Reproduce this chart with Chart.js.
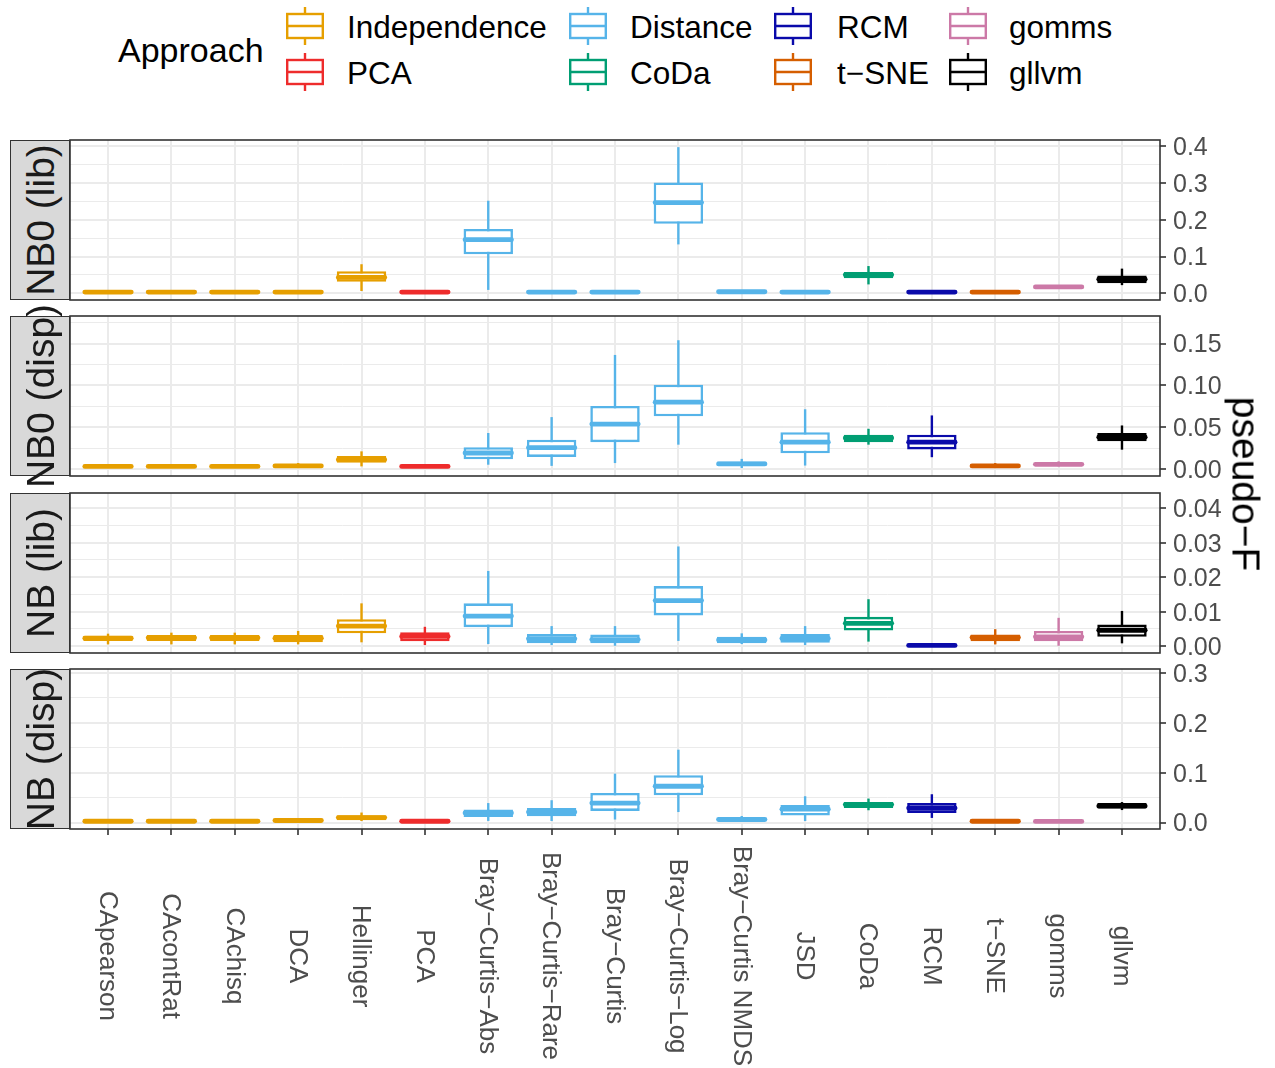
<!DOCTYPE html>
<html>
<head>
<meta charset="utf-8">
<script src="https://cdn.jsdelivr.net/npm/chart.js@4.4.1/dist/chart.umd.min.js"></script>
<style>
  html, body { margin:0; padding:0; background:#fff; }
  body { width:1275px; height:1068px; position:relative; overflow:hidden; font-family:"Liberation Sans", Arial, sans-serif; }
  canvas.cv { position:absolute; left:0; }
  .strip { position:absolute; left:10px; width:60px; background:#D9D9D9; border:1.6px solid #333333; box-sizing:border-box; }
  .striptext { position:absolute; font-size:39px; line-height:1; white-space:nowrap; color:#1A1A1A; transform:translate(-50%,-50%) rotate(-90deg); }
  .ytitle { position:absolute; font-size:39px; line-height:1; white-space:nowrap; color:#000; transform:translate(-50%,-50%) rotate(90deg); }
  .ltitle { position:absolute; font-size:34px; line-height:40px; color:#000; white-space:nowrap; }
  .ltext { position:absolute; font-size:31.5px; line-height:40px; color:#000; white-space:nowrap; }
  .lkey { position:absolute; }
</style>
</head>
<body>
<canvas id="c0" class="cv" width="1275" height="208" style="top:116px"></canvas>
<canvas id="c1" class="cv" width="1275" height="208" style="top:292px"></canvas>
<canvas id="c2" class="cv" width="1275" height="208" style="top:469px"></canvas>
<canvas id="c3" class="cv" width="1275" height="423" style="top:645px"></canvas>
<div id="overlay"></div>
<script>
// ---------------- DATA ----------------
const categories = ["CApearson","CAcontRat","CAchisq","DCA","Hellinger","PCA",
  "Bray\u2212Curtis\u2212Abs","Bray\u2212Curtis\u2212Rare","Bray\u2212Curtis","Bray\u2212Curtis\u2212Log",
  "Bray\u2212Curtis NMDS","JSD","CoDa","RCM","t\u2212SNE","gomms","gllvm"];
const categoryApproach = ["Independence","Independence","Independence","Independence","Independence","PCA",
  "Distance","Distance","Distance","Distance","Distance","Distance","CoDa","RCM","t\u2212SNE","gomms","gllvm"];
const approaches = ["Independence","PCA","Distance","CoDa","RCM","t\u2212SNE","gomms","gllvm"];
const approachColors = ["#E69F00","#EE2C2C","#56B4E9","#009E73","#0A0AAA","#D55E00","#CC79A7","#000000"];
const panelNames = ["NB0 (lib)","NB0 (disp)","NB (lib)","NB (disp)"];

// NB0 (lib)
const nb0LibLow  = [0.001,0.001,0.001,0.001,0.006,0.001,0.009,0.001,0.001,0.133,0.001,0.001,0.024,0.001,0.001,0.013,0.022];
const nb0LibQ1   = [0.002,0.002,0.002,0.002,0.031,0.002,0.106,0.002,0.002,0.189,0.002,0.002,0.041,0.002,0.002,0.015,0.027];
const nb0LibMed  = [0.003,0.003,0.003,0.003,0.043,0.003,0.146,0.003,0.003,0.247,0.004,0.003,0.050,0.003,0.003,0.017,0.038];
const nb0LibQ3   = [0.004,0.004,0.004,0.004,0.060,0.004,0.175,0.004,0.004,0.302,0.005,0.005,0.058,0.004,0.004,0.019,0.048];
const nb0LibHigh = [0.005,0.005,0.005,0.005,0.079,0.006,0.252,0.006,0.006,0.398,0.007,0.007,0.074,0.006,0.005,0.021,0.067];
// NB0 (disp)
const nb0DispLow  = [0.001,0.001,0.001,0.001,0.003,0.001,0.005,0.0036,0.007,0.029,0.001,0.004,0.029,0.014,0.001,0.003,0.023];
const nb0DispQ1   = [0.002,0.002,0.002,0.002,0.0075,0.002,0.0114,0.0143,0.032,0.063,0.004,0.0186,0.032,0.0233,0.002,0.004,0.033];
const nb0DispMed  = [0.003,0.003,0.003,0.0035,0.011,0.003,0.019,0.0254,0.0536,0.0798,0.006,0.032,0.037,0.032,0.0035,0.0055,0.038];
const nb0DispQ3   = [0.004,0.004,0.004,0.005,0.0155,0.004,0.026,0.035,0.0754,0.1007,0.009,0.044,0.041,0.041,0.005,0.007,0.043];
const nb0DispHigh = [0.005,0.005,0.005,0.007,0.021,0.005,0.043,0.062,0.1364,0.154,0.012,0.0714,0.048,0.064,0.007,0.009,0.052];
// NB (lib)
const nbLibLow  = [0.0005,0.0005,0.0005,0.0005,0.0011,0.0003,0.0006,0.0003,0.0001,0.0015,0.0006,0.0003,0.0013,0.0000,0.0005,0.0001,0.0008];
const nbLibQ1   = [0.00145,0.0015,0.0015,0.0011,0.0037,0.0014,0.0055,0.0008,0.0008,0.0089,0.0008,0.0010,0.0045,0.0001,0.0014,0.0014,0.0027];
const nbLibMed  = [0.0023,0.0024,0.0024,0.0023,0.0058,0.0028,0.0087,0.0021,0.0019,0.0132,0.0018,0.0022,0.0066,0.0002,0.0025,0.0027,0.0046];
const nbLibQ3   = [0.0030,0.0032,0.0032,0.0032,0.0078,0.0040,0.0124,0.0035,0.0034,0.0174,0.0027,0.0035,0.0085,0.0003,0.0034,0.0044,0.0063];
const nbLibHigh = [0.0036,0.0039,0.0039,0.0044,0.0124,0.0056,0.0218,0.0058,0.0058,0.0289,0.0037,0.0058,0.0136,0.0005,0.0049,0.0082,0.0102];
// NB (disp)
const nbDispLow  = [0.001,0.001,0.001,0.002,0.003,0.001,0.0032,0.003,0.006,0.021,0.002,0.003,0.0246,0.0092,0.001,0.001,0.025];
const nbDispQ1   = [0.0015,0.0015,0.0015,0.003,0.0046,0.0015,0.0112,0.0126,0.0232,0.0547,0.004,0.014,0.0293,0.0192,0.0015,0.0012,0.028];
const nbDispMed  = [0.0025,0.0025,0.0025,0.004,0.010,0.0025,0.0192,0.021,0.039,0.0727,0.006,0.0267,0.036,0.029,0.0025,0.0022,0.033];
const nbDispQ3   = [0.0035,0.0035,0.0035,0.005,0.0146,0.0035,0.026,0.029,0.0593,0.0948,0.009,0.035,0.0413,0.039,0.0035,0.003,0.039];
const nbDispHigh = [0.004,0.004,0.004,0.006,0.020,0.004,0.039,0.0447,0.098,0.146,0.013,0.0527,0.048,0.0567,0.005,0.004,0.041];

// Axis ticks per panel
const nb0LibTicks  = [0, 0.1, 0.2, 0.3, 0.4];
const nb0DispTicks = [0, 0.05, 0.10, 0.15];
const nbLibTicks   = [0, 0.01, 0.02, 0.03, 0.04];
const nbDispTicks  = [0, 0.1, 0.2, 0.3];
const tickDecimals = [1, 2, 2, 1];
const yLimits = [[-0.0185, 0.4175], [-0.0085, 0.183], [-0.0020, 0.0444], [-0.013, 0.3078]];

// ---------------- BUILD ----------------
const FONT = '"Liberation Sans", Arial, sans-serif';
Chart.defaults.font.family = FONT;

const panels = [
  {low:nb0LibLow, q1:nb0LibQ1, med:nb0LibMed, q3:nb0LibQ3, high:nb0LibHigh, ticks:nb0LibTicks},
  {low:nb0DispLow, q1:nb0DispQ1, med:nb0DispMed, q3:nb0DispQ3, high:nb0DispHigh, ticks:nb0DispTicks},
  {low:nbLibLow, q1:nbLibQ1, med:nbLibMed, q3:nbLibQ3, high:nbLibHigh, ticks:nbLibTicks},
  {low:nbDispLow, q1:nbDispQ1, med:nbDispMed, q3:nbDispQ3, high:nbDispHigh, ticks:nbDispTicks}
];

const catColors = categoryApproach.map(a => approachColors[approaches.indexOf(a)]);

function makeBoxPlugin(P) {
  return {
    id: 'boxparts',
    beforeDatasetsDraw(chart) {
      const ctx = chart.ctx, ys = chart.scales.y, meta = chart.getDatasetMeta(0);
      const a = chart.chartArea;
      ctx.save();
      ctx.beginPath(); ctx.rect(a.left, a.top, a.right - a.left, a.bottom - a.top); ctx.clip();
      ctx.lineWidth = 2.4; ctx.lineCap = 'butt';
      meta.data.forEach((el, i) => {
        ctx.strokeStyle = catColors[i];
        ctx.beginPath();
        ctx.moveTo(el.x, ys.getPixelForValue(P.high[i]));
        ctx.lineTo(el.x, ys.getPixelForValue(P.low[i]));
        ctx.stroke();
      });
      ctx.restore();
    },
    afterDatasetsDraw(chart) {
      const ctx = chart.ctx, ys = chart.scales.y, meta = chart.getDatasetMeta(0);
      ctx.save();
      ctx.lineWidth = 4.8; ctx.lineCap = 'round';
      meta.data.forEach((el, i) => {
        const hw = el.width / 2 - 1.5;
        const y = ys.getPixelForValue(P.med[i]);
        ctx.strokeStyle = catColors[i];
        ctx.beginPath();
        ctx.moveTo(el.x - hw, y);
        ctx.lineTo(el.x + hw, y);
        ctx.stroke();
      });
      ctx.restore();
    }
  };
}

const borderPlugin = {
  id: 'panelBorder',
  afterDraw(chart) {
    const a = chart.chartArea, ctx = chart.ctx;
    ctx.save();
    ctx.strokeStyle = '#333333'; ctx.lineWidth = 1.6;
    ctx.strokeRect(a.left, a.top, a.right - a.left, a.bottom - a.top);
    ctx.restore();
  }
};

const xLabelPlugin = {
  id: 'xLabels',
  afterDraw(chart) {
    const ctx = chart.ctx, xs = chart.scales.x, a = chart.chartArea;
    ctx.save();
    ctx.fillStyle = '#4D4D4D';
    ctx.font = '26px ' + FONT;
    ctx.textAlign = 'center'; ctx.textBaseline = 'middle';
    categories.forEach((c, i) => {
      const x = xs.getPixelForValue(i + 1);
      ctx.save();
      ctx.translate(x, a.bottom + 127);
      ctx.rotate(Math.PI / 2);
      ctx.fillText(c, 0, 1);
      ctx.restore();
    });
    ctx.restore();
  }
};

function buildPanel(k) {
  const P = panels[k];
  const isBottom = k === 3;
  const [ymin, ymax] = yLimits[k];
  const majors = P.ticks;
  const step = majors[1] - majors[0];
  const minors = [];
  for (let j = 0; j < majors.length; j++) {
    const m = majors[j] + step / 2;
    if (m < ymax) minors.push(m);
  }
  const isMinor = c => c.tick && c.tick.minor;
  new Chart(document.getElementById('c' + k), {
    type: 'bar',
    data: {
      datasets: [{
        data: categories.map((c, i) => ({ x: i + 1, y: [P.q1[i], P.q3[i]] })),
        backgroundColor: '#FFFFFF',
        borderColor: catColors,
        borderWidth: 2.6,
        borderSkipped: false,
        inflateAmount: 0,
        barPercentage: 0.78,
        categoryPercentage: 1.0
      }]
    },
    options: {
      responsive: false,
      animation: false,
      events: [],
      layout: { autoPadding: false, padding: { left: 70, right: 0, top: 24, bottom: isBottom ? 0 : 24 } },
      plugins: { legend: { display: false }, tooltip: { enabled: false } },
      scales: {
        x: {
          type: 'linear', min: 0.4, max: 17.6, offset: false, bounds: 'data',
          grid: { offset: false, color: '#EBEBEB', lineWidth: 2, drawTicks: isBottom, tickLength: 6, tickColor: '#333333', tickWidth: 1.6 },
          border: { display: false },
          ticks: { display: false },
          afterBuildTicks: s => { s.ticks = categories.map((c, i) => ({ value: i + 1 })); },
          afterFit: s => { s.height = isBottom ? 239 : 0; }
        },
        y: {
          type: 'linear', position: 'right', min: ymin, max: ymax, bounds: 'data',
          grid: {
            color: '#EBEBEB',
            lineWidth: c => isMinor(c) ? 1 : 2,
            drawTicks: true, tickLength: 6,
            tickColor: c => isMinor(c) ? 'rgba(0,0,0,0)' : '#333333',
            tickWidth: 1.6
          },
          border: { display: false },
          ticks: {
            autoSkip: false, padding: 7, color: '#4D4D4D', labelOffset: 2,
            font: { family: FONT, size: 25 },
            callback: (v, i, t) => (t[i] && t[i].minor) ? '' : Number(v).toFixed(tickDecimals[k])
          },
          afterBuildTicks: s => {
            const t = majors.map(v => ({ value: v })).concat(minors.map(v => ({ value: v, minor: true })));
            t.sort((a, b) => a.value - b.value);
            s.ticks = t;
          },
          afterFit: s => { s.width = 115; }
        }
      }
    },
    plugins: isBottom ? [makeBoxPlugin(P), borderPlugin, xLabelPlugin] : [makeBoxPlugin(P), borderPlugin]
  });
}

[0, 1, 2, 3].forEach(buildPanel);

// ---------------- OVERLAY: strips, y title, legend ----------------
const overlay = document.getElementById('overlay');
const panelTops = [140, 316, 493, 669];
panelNames.forEach((name, k) => {
  const s = document.createElement('div');
  s.className = 'strip';
  s.style.top = panelTops[k] + 'px';
  s.style.height = '160px';
  overlay.appendChild(s);
});
panelNames.forEach((name, k) => {
  const t = document.createElement('div');
  t.className = 'striptext';
  t.textContent = name;
  t.style.left = '40px';
  t.style.top = (panelTops[k] + 80) + 'px';
  overlay.appendChild(t);
});
const yt = document.createElement('div');
yt.className = 'ytitle';
yt.textContent = 'pseudo\u2212F';
yt.style.left = '1246px';
yt.style.top = '484px';
overlay.appendChild(yt);

const lt = document.createElement('div');
lt.className = 'ltitle';
lt.textContent = 'Approach';
lt.style.left = '118px';
lt.style.top = (50 - 20) + 'px';
overlay.appendChild(lt);

const keyLefts = [287, 570, 775, 950];
const textLefts = [347, 630, 837, 1009];
const rowCenters = [26, 72];
approaches.forEach((a, idx) => {
  const col = Math.floor(idx / 2), row = idx % 2;
  const col_ = approachColors[idx];
  const svgNS = 'http://www.w3.org/2000/svg';
  const svg = document.createElementNS(svgNS, 'svg');
  svg.setAttribute('width', '38'); svg.setAttribute('height', '40');
  svg.setAttribute('class', 'lkey');
  svg.style.left = (keyLefts[col] - 1) + 'px';
  svg.style.top = (rowCenters[row] - 20) + 'px';
  svg.innerHTML =
    '<line x1="19" y1="1" x2="19" y2="39" stroke="' + col_ + '" stroke-width="2.4"/>' +
    '<rect x="1.2" y="8" width="35.6" height="24" fill="#fff" stroke="' + col_ + '" stroke-width="2.4"/>' +
    '<line x1="1" y1="20" x2="37" y2="20" stroke="' + col_ + '" stroke-width="2.4"/>';
  overlay.appendChild(svg);
  const tx = document.createElement('div');
  tx.className = 'ltext';
  tx.textContent = a;
  tx.style.left = textLefts[col] + 'px';
  tx.style.top = (rowCenters[row] + 1 - 20) + 'px';
  overlay.appendChild(tx);
});
</script>
</body>
</html>
